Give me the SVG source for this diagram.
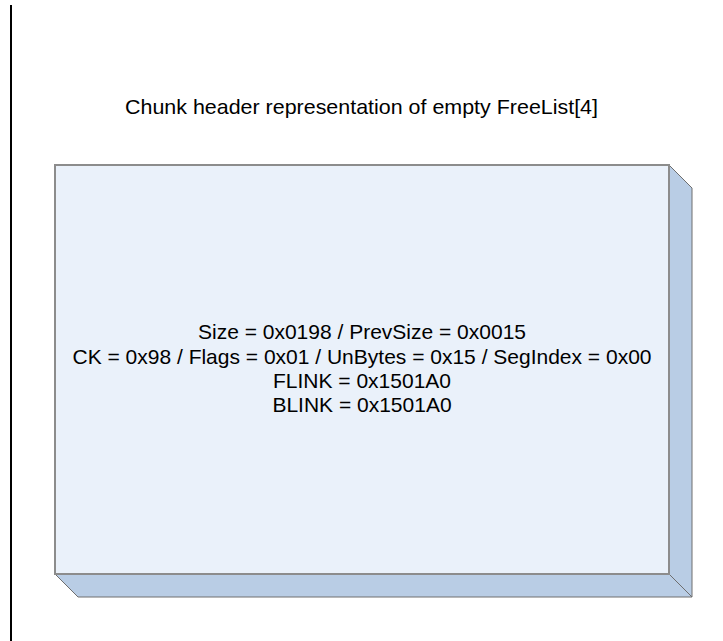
<svg xmlns="http://www.w3.org/2000/svg" width="723" height="641" viewBox="0 0 723 641">
<style>
.t{font-family:"Liberation Sans",Arial,sans-serif;font-size:21px;fill:#000;text-anchor:middle}
.face{fill:#EAF1FA;stroke:#8c8c8c;stroke-width:2}
.side{fill:#B9CDE5;stroke:#6e6e6e;stroke-width:1}
</style>
<rect width="723" height="641" fill="#ffffff"/>
<line x1="11" y1="5" x2="11" y2="641" stroke="#000" stroke-width="2"/>
<g id="title"><text class="t" x="361.5" y="114" textLength="473" lengthAdjust="spacingAndGlyphs">Chunk header representation of empty FreeList[4]</text></g>
<g id="chunk">
<polygon class="side" points="669,165 692,188 692,597 669,574"/>
<polygon class="side" points="55,574 669,574 692,597 78,597"/>
<rect class="face" x="55" y="165" width="614" height="409"/>
<text class="t" x="362" y="339">Size = 0x0198 / PrevSize = 0x0015</text>
<text class="t" x="362" y="364">CK = 0x98 / Flags = 0x01 / UnBytes = 0x15 / SegIndex = 0x00</text>
<text class="t" x="362" y="388">FLINK = 0x1501A0</text>
<text class="t" x="362" y="412">BLINK = 0x1501A0</text>
</g>
</svg>
